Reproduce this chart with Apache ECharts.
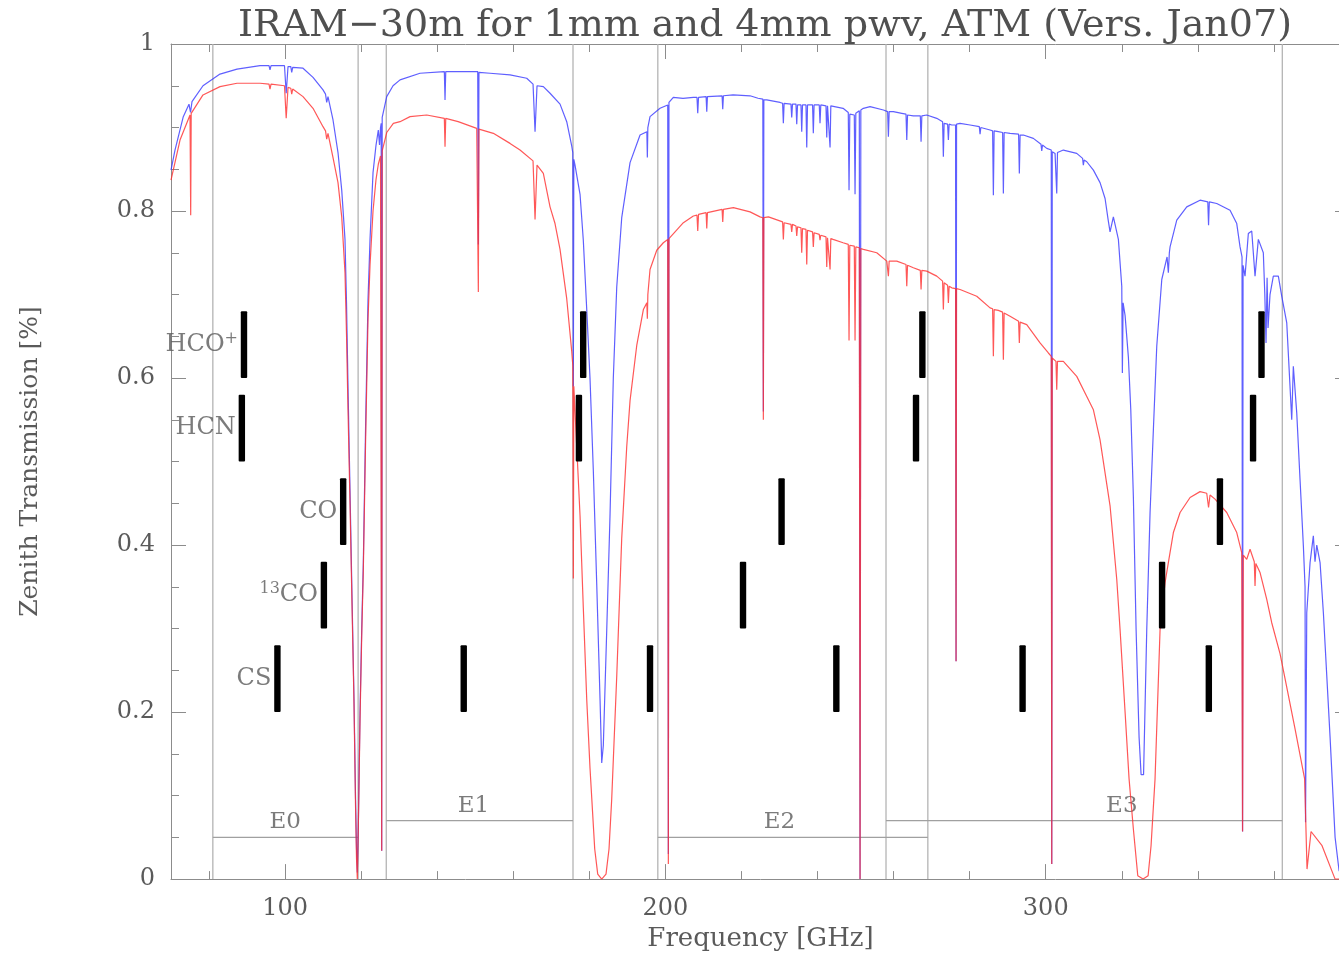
<!DOCTYPE html>
<html>
<head>
<meta charset="utf-8">
<script src="https://cdn.jsdelivr.net/npm/echarts@6/dist/echarts.min.js"></script>
<style>html,body{margin:0;padding:0;background:#fff;overflow:hidden;width:1339px;height:957px}#c{width:1350px;height:957px}</style>
</head>
<body>
<div id="c"></div>
<script>
// ---- data (frequency GHz, zenith transmission) ----
const blueCurve = [[70.00,0.849],[71.05,0.873],[73.23,0.913],[74.73,0.928],[75.13,0.918],[75.52,0.931],[78.41,0.950],[82.88,0.964],[87.36,0.970],[93.40,0.974],[95.77,0.974],[96.03,0.969],[96.30,0.974],[99.84,0.974],[100.29,0.941],[100.77,0.973],[101.50,0.973],[101.74,0.966],[102.00,0.972],[104.71,0.971],[107.34,0.960],[109.97,0.945],[110.63,0.940],[110.94,0.930],[111.28,0.937],[112.60,0.909],[113.91,0.870],[114.89,0.825],[115.75,0.766],[116.15,0.690],[116.54,0.590],[117.07,0.465],[117.59,0.340],[118.12,0.215],[118.51,0.100],[118.78,0.036],[118.99,0.008],[119.25,0.063],[119.70,0.199],[120.14,0.299],[120.57,0.379],[121.15,0.538],[121.80,0.694],[122.33,0.766],[123.12,0.846],[123.91,0.879],[124.51,0.897],[124.83,0.879],[125.09,0.900],[125.27,0.905],[125.40,0.034],[125.53,0.912],[126.72,0.937],[128.38,0.950],[130.22,0.957],[135.47,0.965],[141.87,0.967],[142.05,0.933],[142.24,0.967],[145.47,0.967],[150.65,0.967],[150.81,0.760],[150.97,0.966],[153.88,0.965],[159.14,0.963],[163.53,0.959],[165.19,0.952],[165.72,0.895],[166.24,0.950],[167.90,0.949],[169.66,0.941],[172.29,0.928],[174.05,0.907],[175.36,0.878],[175.65,0.870],[175.79,0.590],[175.92,0.862],[176.23,0.855],[177.55,0.820],[178.41,0.765],[179.31,0.682],[180.17,0.600],[181.04,0.490],[181.94,0.353],[182.81,0.215],[183.25,0.139],[183.67,0.160],[184.57,0.298],[185.43,0.435],[186.30,0.600],[187.20,0.709],[188.51,0.792],[190.70,0.858],[193.33,0.891],[195.12,0.895],[195.25,0.864],[195.38,0.900],[195.95,0.913],[198.58,0.923],[200.61,0.927],[200.77,0.030],[200.93,0.930],[202.08,0.936],[204.63,0.935],[207.34,0.936],[208.30,0.936],[208.50,0.917],[208.70,0.936],[210.70,0.937],[210.87,0.919],[211.05,0.937],[214.90,0.938],[215.07,0.922],[215.25,0.938],[217.78,0.939],[222.25,0.938],[224.35,0.935],[225.61,0.934],[225.75,0.560],[225.88,0.933],[226.64,0.933],[230.14,0.930],[230.81,0.929],[231.01,0.905],[231.21,0.929],[233.01,0.928],[233.21,0.912],[233.41,0.928],[234.33,0.928],[234.53,0.904],[234.73,0.927],[235.64,0.927],[235.84,0.895],[236.04,0.927],[236.96,0.927],[237.16,0.876],[237.36,0.927],[238.69,0.927],[238.89,0.893],[239.09,0.927],[240.45,0.927],[240.65,0.905],[240.85,0.927],[242.22,0.926],[242.42,0.888],[242.62,0.926],[243.09,0.926],[243.29,0.876],[243.49,0.926],[246.71,0.923],[248.08,0.918],[248.28,0.825],[248.48,0.916],[249.66,0.915],[249.86,0.820],[250.06,0.917],[250.98,0.920],[251.18,0.000],[251.38,0.921],[252.05,0.923],[253.81,0.925],[257.31,0.921],[258.43,0.919],[258.63,0.889],[258.83,0.919],[259.94,0.919],[262.14,0.917],[263.26,0.916],[263.46,0.885],[263.66,0.915],[265.19,0.914],[267.02,0.914],[267.22,0.883],[267.42,0.914],[268.71,0.915],[271.34,0.911],[272.88,0.907],[273.08,0.865],[273.28,0.905],[274.20,0.904],[274.40,0.885],[274.60,0.904],[275.29,0.903],[276.29,0.903],[276.42,0.261],[276.55,0.904],[277.47,0.905],[280.10,0.903],[282.53,0.901],[282.73,0.892],[282.93,0.900],[285.36,0.897],[286.03,0.896],[286.23,0.819],[286.43,0.896],[287.54,0.895],[288.66,0.894],[288.86,0.821],[289.06,0.894],[290.62,0.893],[292.86,0.892],[293.06,0.845],[293.26,0.891],[294.11,0.891],[296.74,0.887],[298.75,0.880],[298.95,0.872],[299.15,0.879],[300.27,0.875],[301.45,0.873],[301.58,0.018],[301.71,0.871],[302.45,0.869],[302.69,0.868],[302.89,0.821],[303.09,0.870],[304.63,0.873],[308.15,0.869],[309.69,0.863],[309.89,0.855],[310.09,0.861],[310.79,0.859],[312.53,0.849],[314.28,0.834],[315.60,0.815],[316.39,0.790],[316.91,0.775],[317.78,0.793],[319.10,0.766],[319.99,0.710],[320.15,0.606],[320.34,0.690],[320.86,0.675],[321.73,0.625],[322.36,0.562],[323.04,0.458],[323.75,0.300],[324.54,0.170],[325.07,0.125],[325.72,0.125],[326.56,0.299],[327.43,0.439],[328.30,0.538],[329.19,0.638],[330.51,0.718],[331.90,0.745],[332.24,0.726],[332.50,0.750],[332.69,0.757],[334.45,0.789],[337.08,0.805],[340.57,0.813],[342.61,0.811],[342.81,0.783],[343.01,0.811],[344.96,0.809],[348.46,0.801],[350.22,0.785],[351.09,0.757],[351.61,0.745],[351.75,0.057],[351.88,0.735],[352.40,0.722],[353.27,0.773],[354.16,0.776],[355.03,0.722],[355.90,0.766],[357.21,0.750],[357.60,0.700],[357.92,0.642],[358.20,0.720],[358.45,0.660],[358.97,0.700],[359.84,0.722],[361.16,0.722],[362.05,0.698],[363.37,0.666],[364.68,0.550],[365.10,0.614],[366.00,0.558],[366.87,0.478],[367.74,0.399],[368.18,0.350],[368.31,0.068],[368.63,0.319],[369.50,0.379],[370.36,0.411],[370.80,0.380],[371.26,0.400],[372.13,0.379],[373.00,0.319],[374.76,0.170],[376.08,0.050],[377.13,0.010],[380.00,0.000]];

const redCurve = [[70.00,0.837],[72.37,0.885],[75.00,0.915],[75.05,0.915],[75.18,0.795],[75.31,0.917],[78.41,0.939],[82.88,0.949],[87.36,0.953],[93.40,0.953],[95.77,0.952],[96.03,0.946],[96.30,0.952],[99.84,0.950],[100.29,0.911],[100.77,0.948],[101.50,0.947],[101.74,0.940],[102.00,0.946],[104.71,0.937],[107.34,0.923],[109.97,0.901],[110.63,0.896],[110.94,0.886],[111.28,0.893],[112.60,0.864],[113.91,0.834],[114.89,0.793],[115.75,0.726],[116.15,0.652],[116.54,0.562],[117.07,0.449],[117.59,0.329],[118.12,0.209],[118.51,0.090],[118.78,0.024],[118.99,0.000],[119.25,0.060],[119.70,0.190],[120.14,0.290],[120.57,0.370],[121.15,0.520],[121.80,0.670],[122.33,0.735],[123.12,0.800],[123.91,0.838],[124.51,0.856],[125.09,0.866],[125.27,0.868],[125.40,0.034],[125.53,0.872],[126.72,0.894],[128.46,0.905],[130.22,0.907],[132.85,0.913],[137.24,0.915],[141.87,0.911],[142.05,0.877],[142.24,0.911],[145.50,0.907],[150.39,0.899],[150.65,0.899],[150.81,0.703],[150.97,0.898],[154.75,0.893],[159.14,0.881],[161.77,0.873],[165.19,0.860],[165.72,0.790],[166.24,0.855],[167.90,0.845],[169.66,0.805],[170.97,0.785],[172.29,0.754],[174.05,0.695],[175.36,0.632],[175.65,0.615],[175.79,0.360],[175.92,0.590],[176.68,0.518],[177.55,0.435],[178.41,0.325],[179.31,0.215],[180.17,0.133],[181.41,0.036],[182.20,0.006],[183.25,0.000],[184.38,0.006],[185.17,0.036],[185.88,0.096],[187.20,0.243],[188.51,0.408],[189.83,0.518],[190.70,0.573],[192.46,0.639],[194.20,0.682],[195.12,0.690],[195.25,0.671],[195.38,0.700],[195.95,0.730],[197.72,0.753],[199.45,0.762],[200.61,0.766],[200.77,0.018],[200.93,0.767],[201.22,0.769],[204.72,0.786],[207.34,0.794],[208.30,0.795],[208.50,0.776],[208.70,0.796],[210.70,0.798],[210.87,0.779],[211.05,0.798],[214.90,0.802],[215.07,0.787],[215.25,0.802],[217.87,0.804],[222.25,0.799],[224.88,0.793],[225.61,0.792],[225.75,0.550],[225.88,0.792],[227.09,0.793],[230.81,0.787],[231.01,0.766],[231.21,0.786],[233.01,0.784],[233.21,0.775],[233.41,0.784],[234.33,0.782],[234.53,0.770],[234.73,0.781],[235.64,0.780],[235.84,0.750],[236.04,0.779],[236.96,0.778],[237.16,0.736],[237.36,0.777],[238.69,0.775],[238.89,0.757],[239.09,0.774],[240.45,0.772],[240.65,0.765],[240.85,0.771],[242.22,0.769],[242.42,0.733],[242.62,0.768],[243.09,0.768],[243.29,0.730],[243.49,0.767],[244.08,0.766],[246.71,0.762],[248.08,0.760],[248.28,0.645],[248.48,0.759],[249.66,0.758],[249.86,0.645],[250.06,0.757],[250.98,0.756],[251.18,0.000],[251.38,0.755],[252.05,0.754],[255.57,0.750],[258.20,0.740],[258.43,0.739],[258.63,0.722],[258.83,0.740],[260.83,0.740],[263.26,0.736],[263.46,0.710],[263.66,0.735],[265.19,0.732],[267.02,0.729],[267.22,0.706],[267.42,0.729],[268.71,0.728],[271.34,0.722],[272.88,0.716],[273.08,0.682],[273.28,0.714],[274.20,0.711],[274.40,0.690],[274.60,0.710],[275.29,0.708],[276.29,0.707],[276.42,0.261],[276.55,0.707],[277.47,0.706],[281.86,0.698],[285.36,0.684],[286.03,0.683],[286.23,0.626],[286.43,0.682],[287.54,0.681],[288.66,0.679],[288.86,0.622],[289.06,0.678],[290.62,0.674],[292.86,0.668],[293.06,0.642],[293.26,0.667],[295.00,0.664],[298.50,0.642],[300.69,0.630],[301.45,0.626],[301.58,0.018],[301.71,0.624],[302.69,0.620],[302.89,0.586],[303.09,0.620],[304.63,0.620],[308.15,0.602],[310.79,0.578],[312.53,0.562],[314.28,0.526],[316.91,0.447],[318.67,0.359],[319.54,0.299],[320.86,0.200],[321.91,0.120],[323.04,0.060],[324.20,0.004],[325.59,0.000],[326.91,0.004],[327.69,0.040],[328.74,0.120],[330.06,0.299],[331.37,0.355],[332.24,0.379],[333.56,0.415],[335.32,0.439],[337.95,0.457],[340.57,0.464],[342.33,0.462],[342.81,0.445],[343.20,0.460],[344.52,0.455],[347.59,0.439],[350.22,0.415],[351.53,0.391],[351.75,0.057],[351.95,0.388],[352.85,0.383],[353.72,0.395],[354.83,0.380],[355.03,0.351],[355.23,0.378],[356.35,0.367],[358.11,0.335],[359.42,0.307],[361.60,0.270],[362.92,0.240],[365.55,0.180],[368.07,0.120],[368.70,0.012],[369.76,0.057],[372.65,0.040],[376.08,0.000],[380.00,0.000]];

// receiver bands
const bandNames = ['E0', 'E1', 'E2', 'E3'];
const bandStart = [81.0, 126.6, 198.0, 258.0];
const bandEnd = [119.2, 175.7, 269.0, 362.2];
const bandLevel = [0.05, 0.07, 0.05, 0.07];
const bandLabelFreq = [100.0, 149.5, 230.0, 320.0];
const bandLabelT = [0.068, 0.088, 0.068, 0.088];

// molecular line markers
const molNames = ['HCO+', 'HCN', 'CO', '13CO', 'CS'];
const molFreqs = [
  [89.19, 178.38, 267.56, 356.73],
  [88.63, 177.26, 265.89, 354.51],
  [115.27, 230.54, 345.80],
  [110.20, 220.40, 330.59],
  [97.98, 146.97, 195.95, 244.94, 293.91, 342.88]
];
const molLow = [0.60, 0.50, 0.40, 0.30, 0.20];
const molHigh = [0.68, 0.58, 0.48, 0.38, 0.28];

// axis ticks
const xMajorTicks = [100, 200, 300];
const xMinorTicks = [80, 120, 140, 160, 180, 220, 240, 260, 280, 320, 340, 360];

// ---- chart ----
const FONT = 'DejaVu Serif';
const TXT = '#5a5a5a';
const AX = '#8c8c8c';

const edges = [];
bandStart.forEach((s, i) => { edges.push(s); edges.push(bandEnd[i]); });
const bandSegs = bandStart.map((s, i) => [s, bandEnd[i], bandLevel[i]]);
const bandLabels = bandNames.map((n, i) => ({ value: [bandLabelFreq[i], bandLabelT[i]], name: n }));
const bars = [];
molFreqs.forEach((fs, i) => fs.forEach(f => bars.push([f, molLow[i], molHigh[i]])));
const richMol = ['{m|HCO}{s|+}', '{m|HCN}', '{m|CO}', '{s|13}{m|CO}', '{m|CS}'];
const molLabels = molNames.map((n, i) => ({ value: [molFreqs[i][0], (molLow[i] + molHigh[i]) / 2], name: n, idx: i }));

function xAxisDef(pos, major) {
  return {
    type: 'value', min: 70, max: 380, position: pos, gridIndex: 0,
    axisLine: { show: major, lineStyle: { color: AX, width: 1 } },
    splitLine: { show: false },
    axisTick: { show: true, inside: true, length: major ? 15 : 8,
      customValues: major ? xMajorTicks : xMinorTicks, lineStyle: { color: AX } },
    axisLabel: { show: major && pos === 'bottom', customValues: xMajorTicks,
      fontFamily: FONT, fontSize: 24, color: TXT, margin: 18 },
    name: (major && pos === 'bottom') ? 'Frequency [GHz]' : '',
    nameLocation: 'middle', nameGap: 46,
    nameTextStyle: { fontFamily: FONT, fontSize: 26, color: TXT }
  };
}
function yAxisDef(pos) {
  return {
    type: 'value', min: 0, max: 1, interval: 0.2, position: pos,
    axisLine: { show: true, lineStyle: { color: AX, width: 1 } },
    splitLine: { show: false },
    axisTick: { show: true, inside: true, length: 15, lineStyle: { color: AX } },
    minorTick: { show: true, splitNumber: 4, length: 8, lineStyle: { color: AX } },
    axisLabel: { show: pos === 'left', fontFamily: FONT, fontSize: 24, color: TXT, margin: 16 },
    name: pos === 'left' ? 'Zenith Transmission [%]' : '',
    nameLocation: 'middle', nameGap: 128, nameRotate: 90,
    nameTextStyle: { fontFamily: FONT, fontSize: 25, color: TXT }
  };
}

const chart = echarts.init(document.getElementById('c'), null, { renderer: 'canvas', width: 1350, height: 957 });
chart.setOption({
  animation: false,
  backgroundColor: '#fff',
  title: {
    text: 'IRAM\u221230m for 1mm and 4mm pwv, ATM (Vers. Jan07)',
    left: 760, top: 2, textAlign: 'center',
    textStyle: { fontFamily: FONT, fontSize: 38, fontWeight: 'normal', color: '#505050' }
  },
  grid: { left: 171, right: 0, top: 44, bottom: 77, containLabel: false },
  xAxis: [xAxisDef('bottom', true), xAxisDef('bottom', false), xAxisDef('top', true), xAxisDef('top', false)],
  yAxis: [yAxisDef('left'), yAxisDef('right')],
  series: [
    {
      type: 'custom', name: 'edges', z: 1, silent: true,
      data: edges.map(f => [f]),
      encode: { x: 0 },
      renderItem: (p, api) => {
        const a = api.coord([api.value(0), 0]);
        const b = api.coord([api.value(0), 1]);
        return { type: 'line', shape: { x1: a[0], y1: a[1], x2: b[0], y2: b[1] },
          style: { stroke: '#b4b4b4', lineWidth: 1.3 } };
      }
    },
    {
      type: 'custom', name: 'bands', z: 1, silent: true,
      data: bandSegs,
      encode: { x: [0, 1], y: 2 },
      renderItem: (p, api) => {
        const a = api.coord([api.value(0), api.value(2)]);
        const b = api.coord([api.value(1), api.value(2)]);
        return { type: 'line', shape: { x1: a[0], y1: a[1], x2: b[0], y2: b[1] },
          style: { stroke: '#a0a0a0', lineWidth: 1.3 } };
      }
    },
    {
      type: 'scatter', name: 'bandLabels', z: 2, silent: true, symbolSize: 0,
      data: bandLabels,
      label: { show: true, position: 'inside', formatter: p => p.name,
        fontFamily: FONT, fontSize: 23, color: TXT }
    },
    {
      type: 'line', name: '1mm pwv', z: 3, showSymbol: false, symbol: 'none',
      data: blueCurve, sampling: null,
      lineStyle: { color: 'rgba(55,55,255,0.8)', width: 1.2 }
    },
    {
      type: 'line', name: '4mm pwv', z: 4, showSymbol: false, symbol: 'none',
      data: redCurve, sampling: null,
      lineStyle: { color: 'rgba(255,45,45,0.8)', width: 1.2 }
    },
    {
      type: 'custom', name: 'lines', z: 5, silent: true,
      data: bars,
      encode: { x: 0, y: [1, 2] },
      renderItem: (p, api) => {
        const t = api.coord([api.value(0), api.value(2)]);
        const b = api.coord([api.value(0), api.value(1)]);
        return { type: 'rect', shape: { x: t[0] - 3.2, y: t[1], width: 6.4, height: b[1] - t[1], r: 1 },
          style: { fill: '#000' } };
      }
    },
    {
      type: 'scatter', name: 'molLabels', z: 6, silent: true, symbolSize: 0,
      data: molLabels,
      label: {
        show: true, position: 'left', distance: 6,
        formatter: p => richMol[p.data.idx],
        rich: {
          m: { fontFamily: FONT, fontSize: 24, color: TXT },
          s: { fontFamily: FONT, fontSize: 16, color: TXT, verticalAlign: 'top', padding: [0, 0, 12, 0] }
        }
      }
    }
  ]
});
</script>
</body>
</html>
